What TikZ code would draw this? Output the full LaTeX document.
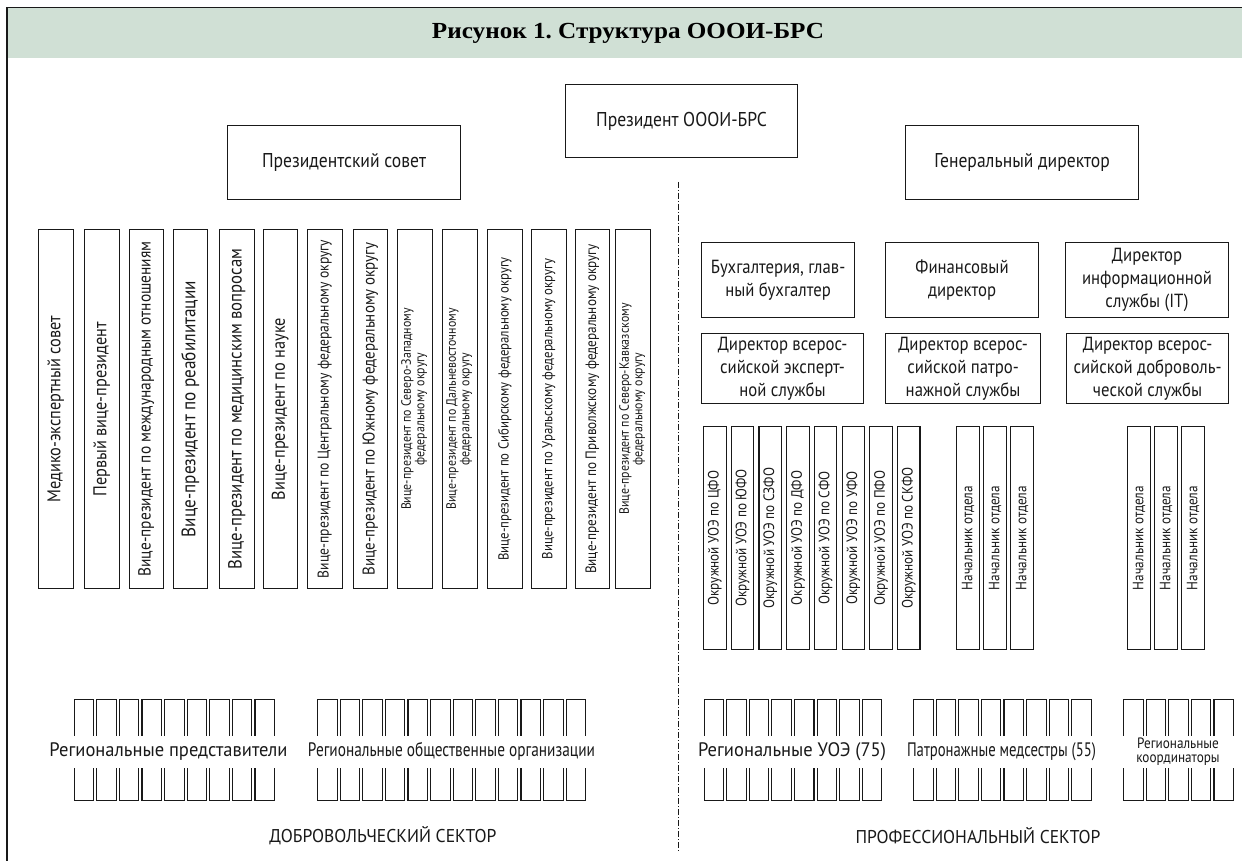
\documentclass[tikz,border=0pt]{standalone}
\usepackage{fontspec}
\usepackage{graphicx}
\setmainfont{PT Sans}[FakeStretch=0.88]
\newfontfamily\titlefont{Liberation Serif}
\definecolor{band}{RGB}{208,224,213}
\definecolor{ink}{RGB}{25,25,25}
\newcommand{\fitw}[2]{\resizebox{#1}{\height}{#2}}
\newcommand{\twol}[2]{\begin{tabular}{@{}c@{}}#1\\#2\end{tabular}}
\frenchspacing
\begin{document}
\begin{tikzpicture}[x=1pt,y=-1pt,
  box/.style={draw=ink, line width=1.1pt, inner sep=0pt, anchor=north west, align=center, text=ink, font=\fontsize{20}{24}\selectfont},
  vpbox/.style={box, minimum width=34.5pt, minimum height=359pt},
  rowbox/.style={box, font=\fontsize{19}{23}\selectfont},
  okbox/.style={box, minimum width=22.5pt, minimum height=223pt, font=\fontsize{15}{16}\selectfont},
  sbox/.style={draw=ink, line width=1.1pt, inner sep=0pt, anchor=north west, minimum width=19.5pt, minimum height=101pt},
  glabel/.style={fill=white, inner xsep=1pt, inner ysep=0pt, minimum height=32pt, text=ink, align=center, font=\fontsize{19.5}{21}\selectfont},
  footer/.style={text=ink, inner sep=0pt, font=\fontsize{18.5}{21}\selectfont},
  divider/.style={draw=ink, line width=0.9pt, dash pattern=on 6pt off 2pt on 1pt off 2pt}
]
\useasboundingbox (0,0) rectangle (1242,861);
% frame and title band
\fill[band] (7,7.5) rectangle (1242,58);
\draw[ink, line width=1.1pt] (7,861) -- (7,7.5) -- (1242,7.5);
\node[inner sep=0pt, text=black] (title) at (628,33) {\titlefont\bfseries\fontsize{23}{26}\selectfont\fitw{392pt}{Рисунок 1. Структура ОООИ-БРС}};

% top boxes
\node[box, minimum width=233pt, minimum height=74pt] (council) at (227,125) {Президентский совет};
\node[box, minimum width=232pt, minimum height=73pt] (president) at (565,84) {Президент ОООИ-БРС};
\node[box, minimum width=233pt, minimum height=74pt] (gendir) at (905,125) {Генеральный директор};

% divider
\coordinate (divtop) at (678,182);
\coordinate (divbot) at (678,852);
\draw[divider] (divtop) -- (divbot);

% left vertical boxes
\node[vpbox] (v1) at (38,229) {\rotatebox{90}{\fontsize{18.5}{20}\selectfont Медико-экспертный совет}};
\node[vpbox] (v2) at (84,229) {\rotatebox{90}{\fontsize{18.5}{20}\selectfont Первый вице-президент}};
\node[vpbox] (v3) at (128.5,229) {\rotatebox{90}{\fontsize{17.5}{19}\selectfont Вице-президент по международным отношениям}};
\node[vpbox] (v4) at (172.5,229) {\rotatebox{90}{\fontsize{19.5}{21}\selectfont Вице-президент по реабилитации}};
\node[vpbox] (v5) at (219,229) {\rotatebox{90}{\fontsize{19}{21}\selectfont Вице-президент по медицинским вопросам}};
\node[vpbox] (v6) at (262.5,229) {\rotatebox{90}{\fontsize{18.5}{20}\selectfont Вице-президент по науке}};
\node[vpbox] (v7) at (307,229) {\rotatebox{90}{\fontsize{15.5}{17}\selectfont Вице-президент по Центральному федеральному округу}};
\node[vpbox] (v8) at (352.5,229) {\rotatebox{90}{\fontsize{17}{19}\selectfont Вице-президент по Южному федеральному округу}};
\node[vpbox] (v9) at (397,229) {\rotatebox{90}{\fontsize{13.5}{13}\selectfont\twol{Вице-президент по Северо-Западному}{федеральному округу}}};
\node[vpbox] (v10) at (442,229) {\rotatebox{90}{\fontsize{13.5}{13}\selectfont\twol{Вице-президент по Дальневосточному}{федеральному округу}}};
\node[vpbox] (v11) at (487,229) {\rotatebox{90}{\fontsize{14.5}{16}\selectfont Вице-президент по Сибирскому федеральному округу}};
\node[vpbox] (v12) at (531,229) {\rotatebox{90}{\fontsize{14.5}{16}\selectfont Вице-президент по Уральскому федеральному округу}};
\node[vpbox] (v13) at (574.5,229) {\rotatebox{90}{\fontsize{15}{16}\selectfont Вице-президент по Приволжскому федеральному округу}};
\node[vpbox] (v14) at (615,229) {\rotatebox{90}{\fontsize{13.5}{13}\selectfont\twol{Вице-президент по Северо-Кавказскому}{федеральному округу}}};

% right side rows
\node[rowbox, minimum width=153pt, minimum height=75pt] (acc) at (701,242) {Бухгалтерия, глав-\\ный бухгалтер};
\node[rowbox, minimum width=153pt, minimum height=75pt] (fin) at (885,242) {Финансовый\\директор};
\node[rowbox, minimum width=163pt, minimum height=75pt] (it) at (1065,242) {Директор\\информационной\\службы (IT)};
\node[rowbox, minimum width=162pt, minimum height=70pt] (exp) at (701,333) {Директор всерос-\\сийской эксперт-\\ной службы};
\node[rowbox, minimum width=155pt, minimum height=70pt] (pat) at (885,333) {Директор всерос-\\сийской патро-\\нажной службы};
\node[rowbox, minimum width=162pt, minimum height=70pt] (vol) at (1066,333) {Директор всерос-\\сийской доброволь-\\ческой службы};

% district boxes
\node[okbox] (ok1) at (703,426) {\rotatebox{90}{Окружной УОЭ по ЦФО}};
\node[okbox] (ok2) at (730.7,426) {\rotatebox{90}{Окружной УОЭ по ЮФО}};
\node[okbox] (ok3) at (758.4,426) {\rotatebox{90}{Окружной УОЭ по СЗФО}};
\node[okbox] (ok4) at (786.1,426) {\rotatebox{90}{Окружной УОЭ по ДФО}};
\node[okbox] (ok5) at (813.8,426) {\rotatebox{90}{Окружной УОЭ по СФО}};
\node[okbox] (ok6) at (841.5,426) {\rotatebox{90}{Окружной УОЭ по УФО}};
\node[okbox] (ok7) at (869.2,426) {\rotatebox{90}{Окружной УОЭ по ПФО}};
\node[okbox] (ok8) at (896.9,426) {\rotatebox{90}{Окружной УОЭ по СКФО}};
\node[okbox, minimum width=23pt] (hp1) at (956,426) {\rotatebox{90}{Начальник отдела}};
\node[okbox, minimum width=23pt] (hp2) at (983,426) {\rotatebox{90}{Начальник отдела}};
\node[okbox, minimum width=23pt] (hp3) at (1010,426) {\rotatebox{90}{Начальник отдела}};
\node[okbox, minimum width=23pt] (hv1) at (1127,426) {\rotatebox{90}{Начальник отдела}};
\node[okbox, minimum width=23pt] (hv2) at (1154,426) {\rotatebox{90}{Начальник отдела}};
\node[okbox, minimum width=23pt] (hv3) at (1181,426) {\rotatebox{90}{Начальник отдела}};

% small regional boxes
\foreach \i in {1,...,9} \node[sbox] (ga\i) at ({73.6+(\i-1)*22.6},699) {};
\foreach \i in {1,...,12} \node[sbox] (gb\i) at ({317+(\i-1)*22.6},699) {};
\foreach \i in {1,...,8} \node[sbox] (gc\i) at ({703.5+(\i-1)*22.6},699) {};
\foreach \i in {1,...,8} \node[sbox] (gd\i) at ({913+(\i-1)*22.6},699) {};
\foreach \i in {1,...,5} \node[sbox] (ge\i) at ({1123+(\i-1)*22.6},699) {};

% group labels
\node[glabel] (la) at (168.5,751.5) {\fitw{238pt}{Региональные представители}};
\node[glabel] (lb) at (451.5,751.5) {\fitw{287pt}{Региональные общественные организации}};
\node[glabel] (lc) at (792,751.5) {\fitw{188pt}{Региональные УОЭ (75)}};
\node[glabel] (ld) at (1001.5,751.5) {\fitw{189pt}{Патронажные медсестры (55)}};
\node[glabel, minimum width=115pt, font=\fontsize{15}{14}\selectfont] (le) at (1178,751.5) {Региональные\\координаторы};

% footers
\node[footer] (volsec) at (383,836) {\fitw{227pt}{ДОБРОВОЛЬЧЕСКИЙ СЕКТОР}};
\node[footer] (prosec) at (978,836) {\fitw{245pt}{ПРОФЕССИОНАЛЬНЫЙ СЕКТОР}};
\end{tikzpicture}
\end{document}
